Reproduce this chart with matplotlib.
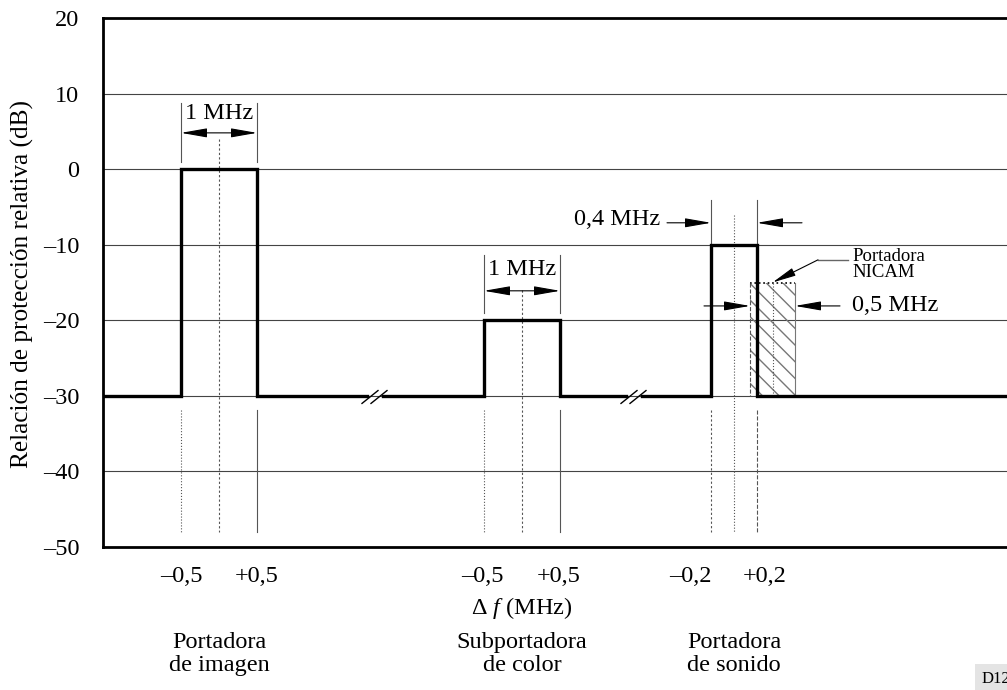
import matplotlib
matplotlib.use('Agg')
import numpy as np
import matplotlib.pyplot as plt
from matplotlib.patches import Rectangle

plt.rcParams['font.family'] = ['Liberation Serif', 'DejaVu Serif']
plt.rcParams['mathtext.fontset'] = 'custom'
plt.rcParams['mathtext.rm'] = 'Liberation Serif'
plt.rcParams['mathtext.it'] = 'Liberation Serif:italic'
plt.rcParams['hatch.linewidth'] = 1.0

# ---------------- data ----------------
carrier_names = ['Portadora\nde imagen', 'Subportadora\nde color', 'Portadora\nde sonido']
carrier_center = [219, 522, 734]          # schematic (not to scale) frequency position
carrier_halfwidth = [38, 38, 23]          # schematic half width of the protected band
carrier_level = [0, -20, -10]             # relative protection ratio (dB)
baseline_level = -30
width_labels = ['1 MHz', '1 MHz', '0,4 MHz']
edge_labels = [('–0,5', '+0,5'), ('–0,5', '+0,5'), ('–0,2', '+0,2')]
nicam_span = [750, 795]
nicam_level = -15
nicam_width_label = '0,5 MHz'
axis_breaks = [375, 634]
x_limits = [103, 1010]
y_ticks = [20, 10, 0, -10, -20, -30, -40, -50]
y_tick_labels = ['20', '10', '0', '–10', '–20', '–30', '–40', '–50']

FS = 17.5
W, H = 1007, 690
fig = plt.figure(figsize=(W / 100, H / 100), dpi=100)
ax = fig.add_axes([103 / W, (H - 547) / H, (1010 - 103) / W, (547 - 18) / H])
ax.set_xlim(*x_limits)
ax.set_ylim(-50, 20)

for s in ['left', 'top', 'bottom']:
    ax.spines[s].set_linewidth(2.0)
ax.spines['right'].set_visible(False)
ax.set_yticks(y_ticks)
ax.set_yticklabels(y_tick_labels, fontsize=FS)
ax.tick_params(axis='y', length=0, pad=17)
ax.set_xticks([])
for yv in y_ticks[1:-1]:
    ax.axhline(yv, color='#444444', lw=0.8, zorder=1)

# ---------------- step curve with axis breaks ----------------
gap = 8
xs, ys = [x_limits[0]], [baseline_level]
events = []
for c, hw, lv in zip(carrier_center, carrier_halfwidth, carrier_level):
    events.append(('pulse', c, hw, lv))
for b in axis_breaks:
    events.append(('break', b, None, None))
events.sort(key=lambda e: e[1])
for kind, c, hw, lv in events:
    if kind == 'pulse':
        xs += [c - hw, c - hw, c + hw, c + hw]
        ys += [baseline_level, lv, lv, baseline_level]
    else:
        xs += [c - gap, np.nan, c + gap]
        ys += [baseline_level, np.nan, baseline_level]
xs.append(x_limits[1])
ys.append(baseline_level)
ax.plot(xs, ys, color='black', lw=2.4, solid_joinstyle='miter', zorder=5)

# break marks
for b in axis_breaks:
    for off in (-5, 4):
        ax.plot([b + off - 8, b + off + 8], [baseline_level - 1.0, baseline_level + 0.7],
                color='black', lw=1.0, zorder=6)

# ---------------- NICAM hatched block ----------------
rect = Rectangle((nicam_span[0], baseline_level), nicam_span[1] - nicam_span[0],
                 nicam_level - baseline_level, fill=False, hatch='\\\\',
                 edgecolor='#777777', lw=0, zorder=3)
ax.add_patch(rect)
ax.plot(nicam_span, [nicam_level, nicam_level], color='black', lw=1.2, ls=':', zorder=4)
ax.plot([nicam_span[0]] * 2, [nicam_level, baseline_level], color='#555555', lw=0.8, ls='--', zorder=4)
nic_c = (nicam_span[0] + nicam_span[1]) / 2
ax.plot([nic_c] * 2, [nicam_level, baseline_level], color='#555555', lw=0.8, ls=':', zorder=4)
ax.plot([nicam_span[1]] * 2, [nicam_level, baseline_level], color='#777777', lw=0.8, zorder=4)

gray = '#555555'
def vline(x, y1, y2, ls='-'):
    ax.plot([x, x], [y1, y2], color=gray, lw=0.8, ls=ls, zorder=2)

arrow_style = '-|>,head_length=0.8,head_width=0.14'
def arrow(x0, x1, y):
    ax.annotate('', xy=(x1, y), xytext=(x0, y),
                arrowprops=dict(arrowstyle=arrow_style, mutation_scale=20, lw=0.8,
                                color='black', shrinkA=0, shrinkB=0), zorder=7)

def darrow(x0, x1, y):
    ax.annotate('', xy=(x1, y), xytext=(x0, y),
                arrowprops=dict(arrowstyle='<|-|>,head_length=0.8,head_width=0.14',
                                mutation_scale=20, lw=0.8, color='black',
                                shrinkA=0, shrinkB=0), zorder=7)

# image carrier & colour subcarrier dimensions
dim_y = [(8.75, 0.95, 4.8, 7.3, 4.0), (-11.4, -19.0, -16.1, -13.3, -16.0)]
for i in range(2):
    c, hw = carrier_center[i], carrier_halfwidth[i]
    top, bot, ay, ty, cy = dim_y[i]
    vline(c - hw, top, bot)
    vline(c + hw, top, bot)
    darrow(c - hw, c + hw, ay)
    ax.text(c, ty, width_labels[i], ha='center', va='center', fontsize=FS, zorder=8)
    vline(c, cy, -48, ls=(0, (2, 2)))
    vline(c - hw, -31.9, -48, ls=':')
    vline(c + hw, -31.9, -48)

# sound carrier dimension
c, hw = carrier_center[2], carrier_halfwidth[2]
vline(c - hw, -4.1, -9.8)
vline(c + hw, -4.1, -9.8)
arrow(c - hw - 44, c - hw, -7.1)
arrow(c + hw + 45, c + hw, -7.1)
ax.text(c - hw - 51, -6.6, width_labels[2], ha='right', va='center', fontsize=FS)
vline(c, -6.1, -48, ls=':')
vline(c - hw, -31.9, -48, ls=(0, (2, 2)))
vline(c + hw, -31.9, -48, ls='--')

# NICAM dimension
arrow(nicam_span[0] - 46, nicam_span[0], -18.1)
arrow(nicam_span[1] + 45, nicam_span[1], -18.1)
ax.text(nicam_span[1] + 57, -18.1, nicam_width_label, ha='left', va='center', fontsize=FS)
ax.text(nicam_span[1] + 57, -12.6, 'Portadora\nNICAM', ha='left', va='center',
        fontsize=13.5, linespacing=0.9)
ax.plot([nicam_span[1] + 53, nicam_span[1] + 23], [-12.0, -12.0], color='#666666', lw=1.0, zorder=7)
ax.annotate('', xy=(nic_c, nicam_level), xytext=(nicam_span[1] + 23, -12.0),
            arrowprops=dict(arrowstyle=arrow_style, mutation_scale=18, lw=0.8,
                            color='black', shrinkA=0, shrinkB=0), zorder=7)

# ---------------- x labels (figure text) ----------------
label_y = 577
label_x = [(181, 257), (482, 559), (690, 765)]
for (l, r), (xl, xr) in zip(edge_labels, label_x):
    fig.text(xl / W, 1 - label_y / H, l, ha='center', va='center', fontsize=FS)
    fig.text(xr / W, 1 - label_y / H, r, ha='center', va='center', fontsize=FS)
fig.text(522 / W, 1 - 608 / H, r'Δ $f$ (MHz)', ha='center', va='center', fontsize=FS)
for name, c in zip(carrier_names, carrier_center):
    fig.text(c / W, 1 - 654 / H, name, ha='center', va='center', fontsize=FS, linespacing=1.1)
fig.text(22 / W, 1 - 284 / H, 'Relación de protección relativa (dB)', rotation=90,
         ha='center', va='center', fontsize=18.2)
fig.text(982 / W, 1 - 679 / H, 'D12', ha='left', va='center', fontsize=12,
         bbox=dict(facecolor='#e4e4e4', edgecolor='none', pad=5))

fig.savefig('out.png', dpi=100)
